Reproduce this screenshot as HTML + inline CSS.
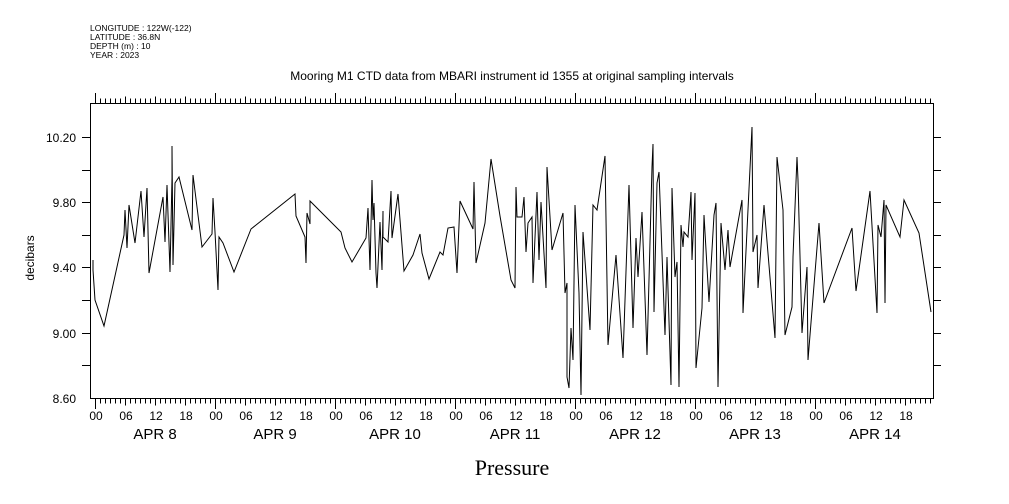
<!DOCTYPE html>
<html><head><style>body{margin:0;background:#fff}svg{display:block}</style></head><body>
<svg width="1009" height="504" xmlns="http://www.w3.org/2000/svg" font-family="Liberation Sans, sans-serif">
<rect width="1009" height="504" fill="#fff"/>
<g font-size="8.5" fill="#000">
<text x="90" y="31">LONGITUDE : 122W(-122)</text>
<text x="90" y="40">LATITUDE : 36.8N</text>
<text x="90" y="49">DEPTH (m) : 10</text>
<text x="90" y="58">YEAR : 2023</text>
</g>
<text x="512" y="80" font-size="12" text-anchor="middle">Mooring M1 CTD data from MBARI instrument id 1355 at original sampling intervals</text>
<rect x="90.5" y="103.5" width="843" height="295" fill="none" stroke="#000" stroke-width="1"/>
<g stroke="#000" stroke-width="1">
<line x1="95" y1="401" x2="934" y2="401" stroke-width="5" stroke-dasharray="1,4"/>
<line x1="95" y1="101" x2="934" y2="101" stroke-width="5" stroke-dasharray="1,4"/>
<line x1="95" y1="404" x2="934" y2="404" stroke-width="3" stroke-dasharray="1,29"/>
<line x1="95" y1="98" x2="934" y2="98" stroke-width="3" stroke-dasharray="1,29"/>
<line x1="95" y1="407" x2="934" y2="407" stroke-width="4" stroke-dasharray="1,119"/>
<line x1="95" y1="95" x2="934" y2="95" stroke-width="4" stroke-dasharray="1,119"/>
<path d="M82 137.5H90M82 170.5H90M82 202.5H90M82 235.5H90M82 267.5H90M82 300.5H90M82 333.5H90M82 365.5H90M933 137.5H941M933 170.5H941M933 202.5H941M933 235.5H941M933 267.5H941M933 300.5H941M933 333.5H941M933 365.5H941"/>
</g>
<g font-size="12" text-anchor="end">
<text x="76" y="142">10.20</text><text x="76" y="207">9.80</text><text x="76" y="272">9.40</text><text x="76" y="338">9.00</text><text x="76" y="403">8.60</text>
</g>
<text transform="translate(34,258) rotate(-90)" font-size="12" text-anchor="middle">decibars</text>
<g font-size="12" text-anchor="middle">
<text x="96" y="420">00</text><text x="126" y="420">06</text><text x="156" y="420">12</text><text x="186" y="420">18</text>
<text x="216" y="420">00</text><text x="246" y="420">06</text><text x="276" y="420">12</text><text x="306" y="420">18</text>
<text x="336" y="420">00</text><text x="366" y="420">06</text><text x="396" y="420">12</text><text x="426" y="420">18</text>
<text x="456" y="420">00</text><text x="486" y="420">06</text><text x="516" y="420">12</text><text x="546" y="420">18</text>
<text x="576" y="420">00</text><text x="606" y="420">06</text><text x="636" y="420">12</text><text x="666" y="420">18</text>
<text x="696" y="420">00</text><text x="726" y="420">06</text><text x="756" y="420">12</text><text x="786" y="420">18</text>
<text x="816" y="420">00</text><text x="846" y="420">06</text><text x="876" y="420">12</text><text x="906" y="420">18</text>
</g>
<g font-size="15" text-anchor="middle">
<text x="155" y="439">APR  8</text><text x="275" y="439">APR  9</text><text x="395" y="439">APR 10</text><text x="515" y="439">APR 11</text><text x="635" y="439">APR 12</text><text x="755" y="439">APR 13</text><text x="875" y="439">APR 14</text>
</g>
<text x="512" y="475" font-size="22" font-family="Liberation Serif, serif" text-anchor="middle">Pressure</text>
<polyline fill="none" stroke="#000" stroke-width="1" points="93,260 93,270 95,300 104,326 124,235 125,210 127,248 129,205 135,243 141,191 144,237 147,188 149,273 163,197 165,242 167,185 170,272 172,178 172,146 173,265 175,183 179,177 192,230 193,175 202,247 212,234 213,198 215,232 218,290 219,237 223,243 234,272 251,229 295,194 296,216 305,237 306,263 307,213 310,224 310,201 341,232 345,248 352,262 366,238 368,208 370,270 372,180 373,220 374,203 376,273 377,288 380,222 382,270 383,211 383,237 388,242 391,191 392,238 398,194 404,271 413,255 420,234 422,253 429,279 440,252 443,255 448,228 454,227 457,273 460,201 473,229 474,182 476,263 485,223 491,159 500,216 511,280 515,288 516,187 517,217 522,217 524,197 526,252 528,223 532,217 533,283 537,192 539,260 541,202 546,288 547,167 552,250 563,213 565,293 567,283 567,377 569,388 571,328 573,360 575,205 579,293 581,395 583,232 590,330 593,205 597,210 605,156 608,345 616,255 623,358 629,185 633,328 636,238 638,277 642,212 647,355 652,167 653,144 654,312 657,183 659,172 665,335 667,257 671,385 672,188 675,277 677,262 679,387 681,225 683,247 684,232 688,237 691,192 692,260 695,193 696,368 702,308 704,215 709,302 714,215 716,203 718,387 721,223 725,270 728,230 730,267 742,200 743,313 752,127 753,252 757,235 758,288 764,205 775,338 777,157 783,210 785,335 792,307 793,257 797,157 798,180 802,333 807,267 808,360 819,223 824,303 852,228 856,291 870,191 877,313 878,225 881,237 884,200 885,303 886,205 900,237 904,200 919,233 931,312"/>
</svg>
</body></html>
